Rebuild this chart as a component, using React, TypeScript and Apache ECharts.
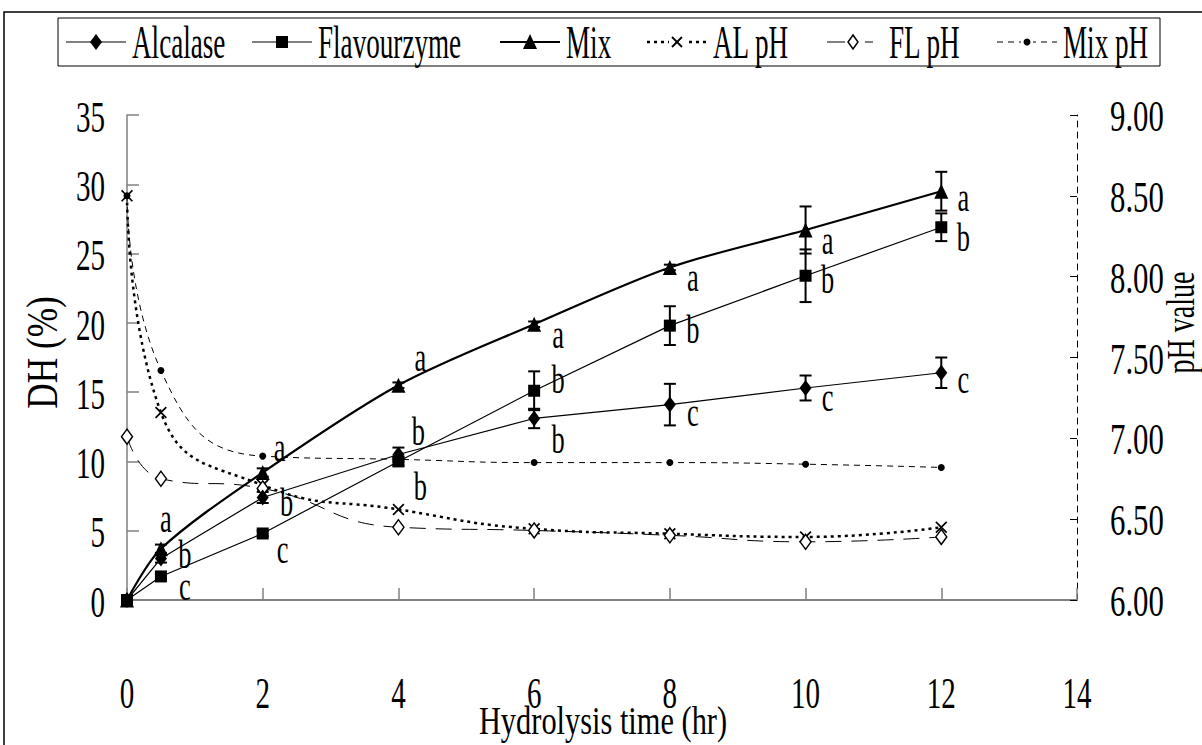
import React, { useEffect, useRef } from "react";
import * as echarts from "echarts";

// ---------------- data ----------------
const times = [0, 0.5, 2, 4, 6, 8, 10, 12];
const alcalase = [0, 3.0, 7.4, 10.5, 13.1, 14.1, 15.3, 16.4];
const alcalaseErr = [0, 0.3, 0.4, 0.5, 0.7, 1.5, 0.9, 1.1];
const flavourzyme = [0, 1.7, 4.8, 10.0, 15.1, 19.8, 23.4, 26.9];
const flavourzymeErr = [0, 0.2, 0.2, 0.3, 1.4, 1.4, 1.9, 1.0];
const mix = [0, 3.7, 9.2, 15.5, 19.9, 24.0, 26.7, 29.5];
const mixErr = [0, 0.3, 0.3, 0.2, 0.2, 0.2, 1.7, 1.4];
const alPH = [8.5, 7.16, 6.71, 6.56, 6.44, 6.41, 6.39, 6.45];
const flPH = [7.01, 6.75, 6.69, 6.45, 6.43, 6.4, 6.36, 6.39];
const mixPH = [8.5, 7.42, 6.89, 6.87, 6.85, 6.85, 6.84, 6.82];

const alcLetters = ["", "b", "b", "b", "b", "c", "c", "c"];
const flavLetters = ["", "c", "c", "b", "b", "b", "b", "b"];
const mixLetters = ["", "a", "a", "a", "a", "a", "a", "a"];

const seriesNames = ["Alcalase", "Flavourzyme", "Mix", "AL pH", "FL pH", "Mix pH"];
const xTickLabels = ["0", "2", "4", "6", "8", "10", "12", "14"];
const dhTickLabels = ["0", "5", "10", "15", "20", "25", "30", "35"];
const phTickLabels = ["6.00", "6.50", "7.00", "7.50", "8.00", "8.50", "9.00"];
const xName = "Hydrolysis time (hr)";
const dhName = "DH (%)";
const phName = "pH value";

// ---------------- styles ----------------
const alcOffsets = [[0, 0], [24, -4], [24, 5], [20, -23], [24, 21], [23, 8], [22, 9], [22, 7]];
const flavOffsets = [[0, 0], [24, 10], [20, 16], [22, 25], [24, -11], [23, 4], [22, 4], [22, 10]];
const mixOffsets = [[0, 0], [5, -30], [17, -25], [22, -28], [24, 10], [23, 10], [22, 10], [22, 6]];

const FAM = "'Liberation Serif', 'Times New Roman', serif";
const font = (s: number) => `${s}px ${FAM}`;
const X_PATH =
  "path://M0,1 L1,0 L5,4 L9,0 L10,1 L6,5 L10,9 L9,10 L5,6 L1,10 L0,9 L4,5 Z";

const GRID = { left: 127, right: 125, top: 115, bottom: 145 };

function txt(text: string, x: number, y: number, size: number, sx: number, align = "center", rot = 0) {
  return {
    type: "text",
    x,
    y,
    scaleX: sx,
    rotation: rot,
    silent: true,
    style: {
      text,
      font: font(size),
      fill: "#000",
      align,
      textAlign: align,
      verticalAlign: "middle",
      textVerticalAlign: "middle",
    },
  };
}

function errSeries(vals: number[], errs: number[]) {
  return {
    type: "custom",
    yAxisIndex: 0,
    z: 1,
    silent: true,
    data: vals.map((v, i) => [times[i], v - errs[i], v + errs[i]]).filter((d, i) => errs[i] > 0),
    renderItem: (params: any, api: any) => {
      const x = api.value(0);
      const top = api.coord([x, api.value(2)]);
      const bot = api.coord([x, api.value(1)]);
      const w = 6;
      const st = { stroke: "#000", lineWidth: 2 };
      return {
        type: "group",
        children: [
          { type: "line", shape: { x1: top[0], y1: top[1], x2: bot[0], y2: bot[1] }, style: st },
          { type: "line", shape: { x1: top[0] - w, y1: top[1], x2: top[0] + w, y2: top[1] }, style: st },
          { type: "line", shape: { x1: bot[0] - w, y1: bot[1], x2: bot[0] + w, y2: bot[1] }, style: st },
        ],
      };
    },
  };
}

function letterSeries(vals: number[], letters: string[], offsets: number[][]) {
  return {
    type: "custom",
    yAxisIndex: 0,
    z: 5,
    silent: true,
    data: vals.map((v, i) => [times[i], v, i]).filter((d, i) => letters[i] !== ""),
    renderItem: (params: any, api: any) => {
      const i = api.value(2);
      const p = api.coord([api.value(0), api.value(1)]);
      return txt(letters[i], p[0] + offsets[i][0], p[1] + offsets[i][1], 40, 0.66);
    },
  };
}

function legendItems() {
  const els: any[] = [];
  const box = { x: 58, y: 18, w: 1102, h: 48 };
  const cy = box.y + box.h / 2;
  els.push({
    type: "rect",
    silent: true,
    shape: { x: box.x, y: box.y, width: box.w, height: box.h },
    style: { fill: "#fff", stroke: "#000", lineWidth: 1 },
  });
  const iconX = [66, 252, 500, 647, 823, 997];
  const iw = 60;
  const blk = { fill: "#000" };
  seriesNames.forEach((name, k) => {
    const x0 = iconX[k];
    const cx = x0 + iw / 2;
    const solid = { stroke: "#000", lineWidth: k === 2 ? 2.2 : 1.2 };
    if (k <= 2) {
      els.push({ type: "line", silent: true, shape: { x1: x0, y1: cy, x2: x0 + iw, y2: cy }, style: solid });
    }
    if (k === 0) {
      els.push({ type: "polygon", silent: true, shape: { points: [[cx, cy - 8], [cx + 6, cy], [cx, cy + 8], [cx - 6, cy]] }, style: blk });
    } else if (k === 1) {
      els.push({ type: "rect", silent: true, shape: { x: cx - 6, y: cy - 6, width: 12, height: 12 }, style: blk });
    } else if (k === 2) {
      els.push({ type: "polygon", silent: true, shape: { points: [[cx, cy - 8], [cx + 7, cy + 7], [cx - 7, cy + 7]] }, style: blk });
    } else if (k === 3) {
      els.push({ type: "line", silent: true, shape: { x1: x0, y1: cy, x2: x0 + iw, y2: cy }, style: { stroke: "#000", lineWidth: 2.5, lineDash: [3, 4] } });
      els.push({ type: "rect", silent: true, shape: { x: cx - 8, y: cy - 8, width: 16, height: 16 }, style: { fill: "#fff" } });
      els.push({ type: "line", silent: true, shape: { x1: cx - 5, y1: cy - 5, x2: cx + 5, y2: cy + 5 }, style: { stroke: "#000", lineWidth: 1.8 } });
      els.push({ type: "line", silent: true, shape: { x1: cx - 5, y1: cy + 5, x2: cx + 5, y2: cy - 5 }, style: { stroke: "#000", lineWidth: 1.8 } });
    } else if (k === 4) {
      els.push({ type: "line", silent: true, shape: { x1: x0 + 4, y1: cy, x2: cx - 8, y2: cy }, style: { stroke: "#000", lineWidth: 1 } });
      els.push({ type: "line", silent: true, shape: { x1: cx + 12, y1: cy, x2: cx + 20, y2: cy }, style: { stroke: "#000", lineWidth: 1 } });
      els.push({ type: "polygon", silent: true, shape: { points: [[cx, cy - 7], [cx + 5, cy], [cx, cy + 7], [cx - 5, cy]] }, style: { fill: "#fff", stroke: "#000", lineWidth: 1.5 } });
    } else if (k === 5) {
      els.push({ type: "line", silent: true, shape: { x1: x0, y1: cy, x2: x0 + iw, y2: cy }, style: { stroke: "#000", lineWidth: 1, lineDash: [6, 5] } });
      els.push({ type: "rect", silent: true, shape: { x: cx - 6, y: cy - 6, width: 12, height: 12 }, style: { fill: "#fff" } });
      els.push({ type: "circle", silent: true, shape: { cx, cy, r: 3.5 }, style: blk });
    }
    els.push(txt(name, x0 + iw + 6, cy, 46, 0.59, "left"));
  });
  return els;
}

export default function App() {
  const ref = useRef<HTMLDivElement>(null);
  useEffect(() => {
    if (!ref.current) return;
    const chart = echarts.init(ref.current, null, { renderer: "svg" });
    const xVals = xTickLabels.map(Number);
    const dhVals = dhTickLabels.map(Number);
    const phVals = phTickLabels.map(Number);
    chart.setOption({
      animation: false,
      backgroundColor: "#fff",
      grid: GRID,
      xAxis: {
        type: "value",
        min: xVals[0],
        max: xVals[xVals.length - 1],
        interval: xVals[1] - xVals[0],
        axisLine: { onZero: false, lineStyle: { color: "#808080", width: 2 } },
        axisTick: { inside: true, length: 12, lineStyle: { color: "#808080", width: 1.5 } },
        axisLabel: { show: false },
        splitLine: { show: false },
      },
      yAxis: [
        {
          type: "value",
          min: dhVals[0],
          max: dhVals[dhVals.length - 1],
          interval: dhVals[1] - dhVals[0],
          axisLine: { show: true, lineStyle: { color: "#808080", width: 1.5 } },
          axisTick: { show: true, inside: true, length: 12, lineStyle: { color: "#808080", width: 1.5 } },
          axisLabel: { show: false },
          splitLine: { show: false },
        },
        {
          type: "value",
          min: phVals[0],
          max: phVals[phVals.length - 1],
          interval: phVals[1] - phVals[0],
          position: "right",
          axisLine: { show: true, lineStyle: { color: "#000", width: 1, type: [6, 5] } },
          axisTick: { show: true, inside: true, length: 7, lineStyle: { color: "#000", width: 1 } },
          axisLabel: { show: false },
          splitLine: { show: false },
        },
      ],
      series: [
        errSeries(alcalase, alcalaseErr),
        errSeries(flavourzyme, flavourzymeErr),
        errSeries(mix, mixErr),
        {
          name: seriesNames[3],
          type: "line",
          yAxisIndex: 1,
          z: 2,
          smooth: 0.5,
          data: times.map((t, i) => [t, alPH[i]]),
          symbol: X_PATH,
          symbolSize: 12,
          lineStyle: { color: "#000", width: 2.5, type: [3, 4] },
          itemStyle: { color: "#000" },
        },
        {
          name: seriesNames[4],
          type: "line",
          yAxisIndex: 1,
          z: 2,
          smooth: 0.5,
          data: times.map((t, i) => [t, flPH[i]]),
          symbol: "diamond",
          symbolSize: [11, 15],
          lineStyle: { color: "#000", width: 1, type: [16, 10] },
          itemStyle: { color: "#fff", borderColor: "#000", borderWidth: 1.5 },
        },
        {
          name: seriesNames[5],
          type: "line",
          yAxisIndex: 1,
          z: 2,
          smooth: 0.5,
          data: times.map((t, i) => [t, mixPH[i]]),
          symbol: "circle",
          symbolSize: 7,
          lineStyle: { color: "#000", width: 1, type: [6, 5] },
          itemStyle: { color: "#000" },
        },
        {
          name: seriesNames[0],
          type: "line",
          yAxisIndex: 0,
          z: 3,
          data: times.map((t, i) => [t, alcalase[i]]),
          symbol: "diamond",
          symbolSize: [12, 16],
          lineStyle: { color: "#000", width: 1.2 },
          itemStyle: { color: "#000" },
        },
        {
          name: seriesNames[1],
          type: "line",
          yAxisIndex: 0,
          z: 3,
          data: times.map((t, i) => [t, flavourzyme[i]]),
          symbol: "rect",
          symbolSize: 12,
          lineStyle: { color: "#000", width: 1.2 },
          itemStyle: { color: "#000" },
        },
        {
          name: seriesNames[2],
          type: "line",
          yAxisIndex: 0,
          z: 3,
          smooth: 0.3,
          data: times.map((t, i) => [t, mix[i]]),
          symbol: "triangle",
          symbolSize: [14, 15],
          lineStyle: { color: "#000", width: 2.2 },
          itemStyle: { color: "#000" },
        },
        letterSeries(alcalase, alcLetters, alcOffsets),
        letterSeries(flavourzyme, flavLetters, flavOffsets),
        letterSeries(mix, mixLetters, mixOffsets),
      ],
    });

    // tick labels & axis names placed through the axes' own scales
    const els: any[] = [
      {
        type: "rect",
        silent: true,
        z: -10,
        shape: { x: 4, y: 12, width: 1300, height: 900 },
        style: { fill: "none", stroke: "#000", lineWidth: 1.5 },
      },
      ...legendItems(),
    ];
    const x0px = chart.convertToPixel({ xAxisIndex: 0 }, xVals[0]) as number;
    const xEndPx = chart.convertToPixel({ xAxisIndex: 0 }, xVals[xVals.length - 1]) as number;
    const yBottom = chart.convertToPixel({ yAxisIndex: 0 }, dhVals[0]) as number;
    const yTop = chart.convertToPixel({ yAxisIndex: 0 }, dhVals[dhVals.length - 1]) as number;
    xTickLabels.forEach((lab, i) => {
      const px = chart.convertToPixel({ xAxisIndex: 0 }, xVals[i]) as number;
      els.push(txt(lab, px, yBottom + 93, 44, 0.66));
    });
    dhTickLabels.forEach((lab, i) => {
      const py = chart.convertToPixel({ yAxisIndex: 0 }, dhVals[i]) as number;
      els.push(txt(lab, x0px - 22, py + 2, 44, 0.66, "right"));
    });
    phTickLabels.forEach((lab, i) => {
      const py = chart.convertToPixel({ yAxisIndex: 1 }, phVals[i]) as number;
      els.push(txt(lab, xEndPx + 33, py + 1, 44, 0.7, "left"));
    });
    els.push(txt(xName, (x0px + xEndPx) / 2 + 1, yBottom + 120, 40, 0.76));
    els.push(txt(dhName, 42, (yTop + yBottom) / 2 - 5, 44, 0.8, "center", Math.PI / 2));
    els.push(txt(phName, 1180, (yTop + yBottom) / 2 - 35, 40, 0.7, "center", Math.PI / 2));
    chart.setOption({ graphic: els });

    return () => chart.dispose();
  }, []);
  return (
    <div
      ref={ref}
      style={{ position: "absolute", left: 0, top: 0, width: 1202, height: 745, background: "#fff" }}
    />
  );
}
